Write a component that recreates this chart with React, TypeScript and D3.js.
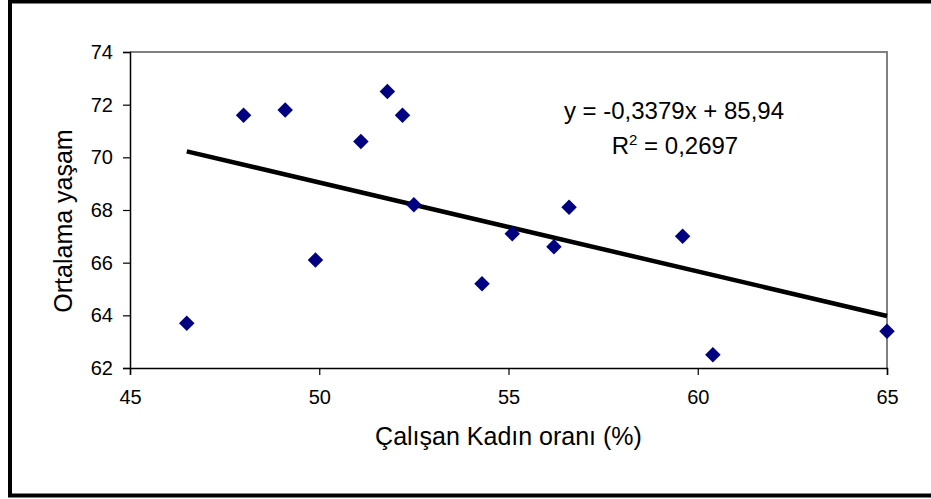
import React, { useEffect, useRef } from 'react';
import * as d3 from 'd3';

// share of working women (%) vs. average life expectancy
const womenShare = [46.5, 48.0, 49.1, 49.9, 51.1, 51.8, 52.2, 52.5, 54.3, 55.1, 56.2, 56.6, 59.6, 60.4, 65.0];
const lifeExp = [63.7, 71.6, 71.8, 66.1, 70.6, 72.5, 71.6, 68.2, 65.2, 67.1, 66.6, 68.1, 67.0, 62.5, 63.4];

const xTicks = [45, 50, 55, 60, 65];
const yTicks = [62, 64, 66, 68, 70, 72, 74];

const trendSlope = -0.3379;
const trendIntercept = 85.94;
const trendLabel = 'y = -0,3379x + 85,94';
const r2Value = '0,2697';

const xTitle = 'Çalışan Kadın oranı (%)';
const yTitle = 'Ortalama yaşam';

const App: React.FC = () => {
  const svgRef = useRef<SVGSVGElement>(null);

  useEffect(() => {
    if (!svgRef.current) return;
    const width = 931;
    const height = 499;
    const margin = { top: 52, right: 44, bottom: 131, left: 130 };
    const font = "'Liberation Sans', Arial, sans-serif";

    const svg = d3.select(svgRef.current);
    svg.selectAll('*').remove();

    svg.append('rect').attr('width', width).attr('height', height).attr('fill', '#fff');

    // outer chart frame (right edge is cropped off)
    svg.append('rect')
      .attr('x', 10).attr('y', 1.5)
      .attr('width', 940).attr('height', 494)
      .attr('fill', 'none')
      .attr('stroke', '#000')
      .attr('stroke-width', 4);

    const x = d3.scaleLinear().domain([45, 65]).range([margin.left, width - margin.right]);
    const y = d3.scaleLinear().domain([62, 74]).range([height - margin.bottom, margin.top]);

    // plot area border (top/right grey)
    svg.append('path')
      .attr('d', `M${x(45)},${y(74)}H${x(65)}V${y(62)}`)
      .attr('fill', 'none')
      .attr('stroke', '#808080')
      .attr('stroke-width', 2);

    const xAxis = svg.append('g')
      .attr('transform', `translate(0,${y(62)})`)
      .call(d3.axisBottom(x).tickValues(xTicks).tickSize(7).tickPadding(10).tickFormat(d3.format('d')));
    const yAxis = svg.append('g')
      .attr('transform', `translate(${x(45)},0)`)
      .call(d3.axisLeft(y).tickValues(yTicks).tickSize(7).tickPadding(10).tickFormat(d3.format('d')));

    [xAxis, yAxis].forEach(a => {
      a.select('.domain').attr('stroke', '#000').attr('stroke-width', 1.5);
      a.selectAll('.tick line').attr('stroke', '#000').attr('stroke-width', 1.2);
      a.selectAll('.tick text')
        .attr('fill', '#000')
        .style('font-family', font)
        .style('font-size', '20px');
    });
    xAxis.selectAll('.tick text').attr('dy', '0.95em');

    // trend line
    const [x0, x1] = d3.extent(womenShare) as [number, number];
    svg.append('line')
      .attr('x1', x(x0)).attr('y1', y(trendSlope * x0 + trendIntercept))
      .attr('x2', x(x1)).attr('y2', y(trendSlope * x1 + trendIntercept))
      .attr('stroke', '#000')
      .attr('stroke-width', 4.5);

    // diamond markers
    const diamond = d3.symbol().type(d3.symbolSquare).size(120);
    svg.selectAll('.pt')
      .data(womenShare.map((v, i) => [v, lifeExp[i]]))
      .enter().append('path')
      .attr('class', 'pt')
      .attr('d', diamond as any)
      .attr('transform', d => `translate(${x(d[0])},${y(d[1])}) rotate(45)`)
      .attr('fill', '#000080');

    // equation
    svg.append('text')
      .attr('x', 674).attr('y', 119)
      .attr('text-anchor', 'middle')
      .style('font-family', font)
      .style('font-size', '24px')
      .text(trendLabel);

    const r2 = svg.append('text')
      .attr('x', 675).attr('y', 154)
      .attr('text-anchor', 'middle')
      .style('font-family', font)
      .style('font-size', '24px');
    r2.append('tspan').text('R');
    r2.append('tspan').attr('dy', -9).style('font-size', '15px').text('2');
    r2.append('tspan').attr('dy', 9).text(` = ${r2Value}`);

    // axis titles
    svg.append('text')
      .attr('x', (x(45) + x(65)) / 2).attr('y', 445)
      .attr('text-anchor', 'middle')
      .style('font-family', font)
      .style('font-size', '25px')
      .text(xTitle);

    svg.append('text')
      .attr('transform', 'translate(72,221) rotate(-90)')
      .attr('text-anchor', 'middle')
      .style('font-family', font)
      .style('font-size', '25px')
      .text(yTitle);
  }, []);

  return (
    <div style={{ position: 'absolute', left: 0, top: 0 }}>
      <svg ref={svgRef} width="931" height="499" viewBox="0 0 931 499" style={{ display: 'block' }}></svg>
    </div>
  );
};

export default App;
